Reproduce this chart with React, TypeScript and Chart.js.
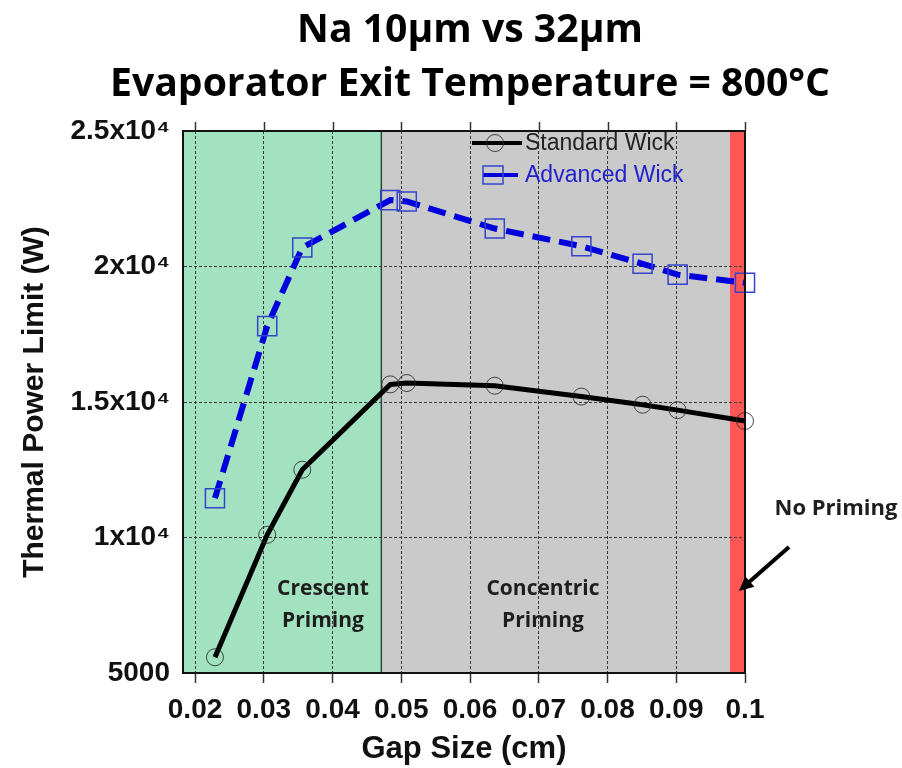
import React, { useEffect, useRef } from "react";
import { Chart, registerables } from "chart.js";

Chart.register(...registerables);

// ---- data ----
const GAP_CM = [0.0229, 0.0305, 0.0356, 0.0484, 0.0508, 0.0636, 0.0762, 0.0851, 0.0902, 0.1];
const STANDARD_WICK_W = [5580, 10100, 12500, 15650, 15700, 15600, 15200, 14900, 14700, 14300];
const ADVANCED_WICK_W = [11450, 17800, 20700, 22450, 22400, 21400, 20750, 20100, 19700, 19400];
const X_TICKS = [0.02, 0.03, 0.04, 0.05, 0.06, 0.07, 0.08, 0.09, 0.1];
const X_TICK_LABELS = ["0.02", "0.03", "0.04", "0.05", "0.06", "0.07", "0.08", "0.09", "0.1"];
const Y_TICKS = [5000, 10000, 15000, 20000, 25000];
const Y_TICK_LABELS = ["5000", "1x10\u2074", "1.5x10\u2074", "2x10\u2074", "2.5x10\u2074"];
const REGION_FROM = [0.01825, 0.0471, 0.0978];
const REGION_TO = [0.0471, 0.0978, 0.1];
const REGION_NAMES = [["Crescent", "Priming"], ["Concentric", "Priming"], ["No Priming"]];
const TITLE_LINES = ["Na 10\u00b5m vs 32\u00b5m", "Evaporator Exit Temperature = 800\u00b0C"];
const SERIES_NAMES = ["Standard Wick", "Advanced Wick"];

const REGION_COLORS = ["#a3e2c1", "#cacaca", "#ff5656"];
const FONT_FAMILY = '"Liberation Sans", Arial, sans-serif';
const TICK_FONT = { family: FONT_FAMILY, size: 28, weight: "bold" as const };

const decor = {
  id: "decor",
  beforeDraw(chart: any) {
    const { ctx, chartArea: a, scales } = chart;
    const x = scales.x;
    ctx.save();
    ctx.fillStyle = "#ffffff";
    ctx.fillRect(0, 0, chart.width, chart.height);
    for (let i = 0; i < REGION_FROM.length; i++) {
      const x1 = Math.max(a.left, x.getPixelForValue(REGION_FROM[i]));
      const x2 = Math.min(a.right, x.getPixelForValue(REGION_TO[i]));
      ctx.fillStyle = REGION_COLORS[i];
      ctx.fillRect(x1, a.top, x2 - x1, a.bottom - a.top);
    }
    const sx = x.getPixelForValue(REGION_TO[0]);
    ctx.strokeStyle = "#2a4a3a";
    ctx.lineWidth = 1.5;
    ctx.beginPath();
    ctx.moveTo(sx, a.top);
    ctx.lineTo(sx, a.bottom);
    ctx.stroke();
    ctx.restore();
  },
  afterDatasetsDraw(chart: any) {
    const { ctx } = chart;
    ctx.save();
    const ly1 = 143, ly2 = 175;
    ctx.strokeStyle = "#000";
    ctx.lineWidth = 4;
    ctx.beginPath();
    ctx.moveTo(472, ly1);
    ctx.lineTo(522, ly1);
    ctx.stroke();
    ctx.strokeStyle = "rgba(40,40,40,0.85)";
    ctx.lineWidth = 1;
    ctx.beginPath();
    ctx.arc(495, ly1, 8.5, 0, Math.PI * 2);
    ctx.stroke();
    ctx.strokeStyle = "#0000dd";
    ctx.lineWidth = 4;
    ctx.beginPath();
    ctx.moveTo(483, ly2);
    ctx.lineTo(518, ly2);
    ctx.stroke();
    ctx.strokeStyle = "#3344cc";
    ctx.lineWidth = 1.5;
    ctx.strokeRect(483, ly2 - 9, 20, 18);
    ctx.font = "23px " + FONT_FAMILY;
    ctx.textBaseline = "middle";
    ctx.textAlign = "left";
    ctx.fillStyle = "#222";
    ctx.fillText(SERIES_NAMES[0], 525, ly1 + 1);
    ctx.fillStyle = "#2222cc";
    ctx.fillText(SERIES_NAMES[1], 525, ly2 + 1);
    ctx.restore();
  },
  afterDraw(chart: any) {
    const { ctx, chartArea: a, scales } = chart;
    const x = scales.x;
    ctx.save();
    ctx.strokeStyle = "#111";
    ctx.lineWidth = 2;
    ctx.strokeRect(a.left, a.top, a.right - a.left, a.bottom - a.top);
    ctx.lineWidth = 1.5;
    ctx.strokeStyle = "#333";
    for (const t of X_TICKS) {
      const px = Math.round(x.getPixelForValue(t)) + 0.5;
      ctx.beginPath();
      ctx.moveTo(px, a.top - 9);
      ctx.lineTo(px, a.top);
      ctx.stroke();
    }
    // title
    ctx.fillStyle = "#000";
    ctx.textAlign = "center";
    ctx.textBaseline = "alphabetic";
    ctx.font = 'bold 40px "Open Sans", sans-serif';
    const w2 = ctx.measureText(TITLE_LINES[1]).width;
    const sxScale = 720 / w2;
    const baselines = [42, 96];
    TITLE_LINES.forEach((t, i) => {
      ctx.save();
      ctx.translate(470, baselines[i]);
      ctx.scale(sxScale, 1);
      ctx.fillText(t, 0, 0);
      ctx.restore();
    });
    // region annotations
    ctx.font = 'bold 21px "Open Sans", sans-serif';
    ctx.fillStyle = "#1e1e1e";
    ctx.textBaseline = "middle";
    ctx.fillText(REGION_NAMES[0][0], 323, 589);
    ctx.fillText(REGION_NAMES[0][1], 323, 621);
    ctx.fillText(REGION_NAMES[1][0], 543, 589);
    ctx.fillText(REGION_NAMES[1][1], 543, 621);
    ctx.font = 'bold 22px "Open Sans", sans-serif';
    ctx.fillText(REGION_NAMES[2][0], 836, 509);
    // arrow
    ctx.strokeStyle = "#000";
    ctx.fillStyle = "#000";
    ctx.lineWidth = 4;
    const ax1 = 789, ay1 = 547, ax2 = 748, ay2 = 583;
    ctx.beginPath();
    ctx.moveTo(ax1, ay1);
    ctx.lineTo(ax2, ay2);
    ctx.stroke();
    const ang = Math.atan2(ay2 - ay1, ax2 - ax1);
    const tipX = 739, tipY = 591;
    ctx.beginPath();
    ctx.moveTo(tipX, tipY);
    ctx.lineTo(tipX - 16 * Math.cos(ang - 0.45), tipY - 16 * Math.sin(ang - 0.45));
    ctx.lineTo(tipX - 16 * Math.cos(ang + 0.45), tipY - 16 * Math.sin(ang + 0.45));
    ctx.closePath();
    ctx.fill();
    ctx.restore();
  },
};

export default function App() {
  const ref = useRef<HTMLCanvasElement | null>(null);
  useEffect(() => {
    if (!ref.current) return;
    const chart = new Chart(ref.current, {
      type: "line",
      data: {
        datasets: [
          {
            label: SERIES_NAMES[0],
            data: GAP_CM.map((g, i) => ({ x: g, y: STANDARD_WICK_W[i] })),
            borderColor: "#000",
            borderWidth: 5,
            pointStyle: "circle",
            pointRadius: 8.5,
            pointBorderColor: "rgba(40,40,40,0.85)",
            pointBorderWidth: 1,
            pointBackgroundColor: "rgba(0,0,0,0)",
            clip: false,
            tension: 0,
          },
          {
            label: SERIES_NAMES[1],
            data: GAP_CM.map((g, i) => ({ x: g, y: ADVANCED_WICK_W[i] })),
            borderColor: "#0000dd",
            borderWidth: 6,
            borderDash: [18, 9],
            pointStyle: "rect",
            pointRadius: 13.5,
            pointBorderColor: "#3344cc",
            pointBorderWidth: 1.5,
            pointBackgroundColor: "rgba(0,0,0,0)",
            clip: false,
            tension: 0,
          },
        ],
      },
      options: {
        animation: false,
        responsive: false,
        devicePixelRatio: 1,
        layout: { padding: { top: 131, right: 157, left: 0, bottom: 0 } },
        plugins: {
          legend: { display: false },
          title: { display: false },
          tooltip: { enabled: false },
        },
        scales: {
          x: {
            type: "linear",
            min: 0.01825,
            max: 0.1,
            afterBuildTicks: (s: any) => {
              s.ticks = X_TICKS.map((v) => ({ value: v }));
            },
            afterFit: (s: any) => {
              s.height = 95;
            },
            ticks: {
              autoSkip: false,
              maxRotation: 0,
              padding: 10,
              color: "#111",
              font: TICK_FONT,
              callback: (v: any) => {
                const i = X_TICKS.findIndex((t) => Math.abs(t - v) < 1e-9);
                return i >= 0 ? X_TICK_LABELS[i] : "";
              },
            },
            grid: {
              color: "#3a3a3a",
              lineWidth: 1,
              drawTicks: true,
              tickLength: 10,
              tickColor: "#333",
              tickWidth: 1.5,
              tickBorderDash: [],
            },
            border: { display: true, color: "#111", width: 2, dash: [3, 2] },
            title: {
              display: true,
              text: "Gap Size (cm)",
              color: "#111",
              font: { family: FONT_FAMILY, size: 31, weight: "bold" },
              padding: { top: 0, bottom: 0 },
            },
          },
          y: {
            type: "linear",
            min: 5000,
            max: 25000,
            afterBuildTicks: (s: any) => {
              s.ticks = Y_TICKS.map((v) => ({ value: v }));
            },
            afterFit: (s: any) => {
              s.width = 183;
            },
            ticks: {
              padding: 13,
              color: "#111",
              font: TICK_FONT,
              callback: (v: any) => {
                const i = Y_TICKS.indexOf(v);
                return i >= 0 ? Y_TICK_LABELS[i] : "";
              },
            },
            grid: {
              color: "#3a3a3a",
              lineWidth: 1,
              drawTicks: false,
            },
            border: { display: true, color: "#111", width: 2, dash: [3, 2] },
            title: {
              display: true,
              text: "Thermal Power Limit (W)",
              color: "#111",
              font: { family: FONT_FAMILY, size: 30, weight: "bold" },
              padding: { top: 17, bottom: 0 },
            },
          },
        },
      },
      plugins: [decor],
    } as any);
    return () => chart.destroy();
  }, []);
  return (
    <div style={{ position: "fixed", left: 0, top: 0, width: 902, height: 768, background: "#fff" }}>
      <canvas ref={ref} width={902} height={768} style={{ display: "block" }} />
    </div>
  );
}
